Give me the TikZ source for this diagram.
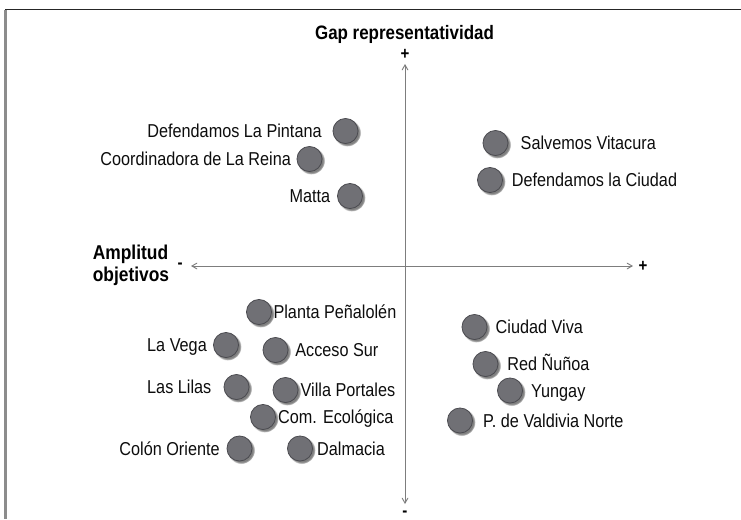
\documentclass[tikz,border=0pt]{standalone}
\usepackage{fontspec}
\setmainfont{Liberation Sans}[FakeStretch=0.87]
\usetikzlibrary{arrows,positioning,shadows}

\definecolor{dotgray}{RGB}{112,112,117}
\definecolor{dotrim}{RGB}{75,75,80}
\definecolor{axisgray}{RGB}{125,125,125}

\begin{document}
\begin{tikzpicture}[x=0.75pt, y=-0.75pt, >=angle 60,
    dot/.style  = {circle, draw=dotrim, line width=0.6pt, fill=dotgray,
                   minimum size=18.8pt, inner sep=0pt,
                   circular drop shadow={shadow scale=1.1, shadow xshift=1.2pt, shadow yshift=-1.2pt}},
    lbl/.style  = {font=\fontsize{14}{16}\selectfont, inner sep=0pt,
                   text height=10pt, text depth=0pt, text=black!95},
    head/.style = {font=\bfseries\fontsize{14.6}{16.5}\selectfont, inner sep=0pt, text=black},
    sign/.style = {font=\bfseries\fontsize{13}{14}\selectfont, inner sep=0pt},
    axis/.style = {draw=axisgray, line width=0.7pt}]
\useasboundingbox (0,0) rectangle (741,519);

% frame
\draw[black!85, line width=1.2pt] (5,9.5) -- (741,9.5);
\draw[black!45, line width=1.6pt] (5.5,9.5) -- (5.5,519);

% axes
\coordinate (xl) at (191,266);
\coordinate (xr) at (633,266);
\coordinate (yt) at (405,64);
\coordinate (yb) at (405,504);
\draw[axis,<->] (xl) -- (xr);
\draw[axis,<->] (yt) -- (yb);
\node[sign, left=6pt of xl] (xminus) {-};
\node[sign, right=4pt of xr] (xplus) {+};
\node[sign, above=3pt of yt] (yplus) {+};
\node[sign, below=5pt of yb] (yminus) {-};
\node[head, anchor=base] (ytitle) at (404.5,39) {Gap representatividad};
\node[head, font=\bfseries\fontsize{15}{16.5}\selectfont, align=left, anchor=west]
    (xtitle) at (92.5,265.5) {Amplitud\\objetivos};

% upper left
\node[dot] (pintana) at (345.5,131) {};
\node[dot] (reina)   at (309.5,159) {};
\node[dot] (matta)   at (350,196) {};
\node[lbl, left=8pt of pintana] {Defendamos La Pintana};
\node[lbl, left=4pt of reina]   {Coordinadora de La Reina};
\node[lbl, left=5pt of matta]   {Matta};

% upper right
\node[dot] (vitacura) at (495.5,143) {};
\node[dot] (ciudad)   at (490,180) {};
\node[lbl, right=9pt of vitacura] {Salvemos Vitacura};
\node[lbl, right=6.5pt of ciudad] {Defendamos la Ciudad};

% lower left
\node[dot] (planta)   at (259,312) {};
\node[dot] (vega)     at (226,345) {};
\node[dot] (acceso)   at (275.5,350) {};
\node[dot] (lilas)    at (236.5,387) {};
\node[dot] (portales) at (285.5,390) {};
\node[dot] (ecologica) at (263,417) {};
\node[dot] (colon)    at (239.5,448.5) {};
\node[dot] (dalmacia) at (300,448.5) {};
\node[lbl, right=1pt of planta]    {Planta Peñalolén};
\node[lbl, left=4.5pt of vega]     {La Vega};
\node[lbl, right=5pt of acceso]    {Acceso Sur};
\node[lbl, left=9pt of lilas]      {Las Lilas};
\node[lbl, right=1.5pt of portales] {Villa Portales};
\node[lbl, right=1.5pt of ecologica] {Com. Ecológica};
\node[lbl, left=5pt of colon]      {Colón Oriente};
\node[lbl, right=3pt of dalmacia]  {Dalmacia};

% lower right
\node[dot] (viva)     at (474.5,327) {};
\node[dot] (nunoa)    at (485.5,364) {};
\node[dot] (yungay)   at (510,390.5) {};
\node[dot] (valdivia) at (460,420.5) {};
\node[lbl, right=6pt of viva]     {Ciudad Viva};
\node[lbl, right=6.5pt of nunoa]  {Red Ñuñoa};
\node[lbl, right=6pt of yungay]   {Yungay};
\node[lbl, right=7.5pt of valdivia] {P. de Valdivia Norte};
\end{tikzpicture}
\end{document}
